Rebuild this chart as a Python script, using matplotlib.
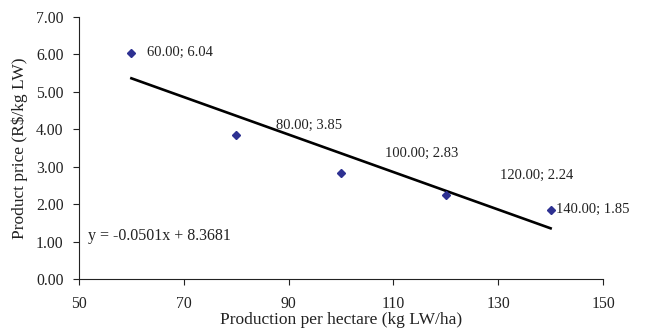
import numpy as np
import matplotlib
matplotlib.use('Agg')
import matplotlib.pyplot as plt

# data (point labels)
production = [60, 80, 100, 120, 140]
price = [6.04, 3.85, 2.83, 2.24, 1.85]
# trendline as printed on the chart
slope = -0.0501
intercept = 8.3681

# label offsets in points (dx, dy) from each point
label_offsets = [(11, 0), (29, 7), (32, 14), (39, 14), (4, 0)]

plt.rcParams['font.family'] = ['Liberation Serif', 'DejaVu Serif']
plt.rcParams['font.size'] = 10.5

fig = plt.figure(figsize=(6.54, 3.31), dpi=100)
ax = fig.add_axes([79 / 654, 1 - 279 / 331, 524 / 654, 262 / 331])

xs = np.array([min(production), max(production)])
ax.plot(xs, slope * xs + intercept, color='black', lw=1.9, zorder=2)
ax.plot(production, price, linestyle='none', marker='D', markersize=4.2,
        color='#2e3192', zorder=3)

for x, y, (dx, dy) in zip(production, price, label_offsets):
    ax.annotate('%.2f; %.2f' % (x, y), (x, y), xytext=(dx, dy),
                textcoords='offset points', ha='left', va='center',
                color='#222222')

ax.text(0.017, 0.165, 'y = -0.0501x + 8.3681', transform=ax.transAxes,
        ha='left', va='center', color='#222222', fontsize=11.5)

ax.set_xlim(50, 150)
ax.set_ylim(0, 7)
ax.set_xticks(range(50, 151, 20))
ax.set_yticks(range(0, 8))
ax.yaxis.set_major_formatter(plt.FuncFormatter(lambda v, p: '%.2f' % v))

for side in ['top', 'right']:
    ax.spines[side].set_visible(False)
for side in ['left', 'bottom']:
    ax.spines[side].set_linewidth(0.8)
    ax.spines[side].set_color('#222222')
ax.tick_params(direction='out', length=4, width=0.8, colors='#222222',
               labelsize=11.3)
ax.tick_params(axis='y', pad=7)
ax.tick_params(axis='x', pad=8)

ax.set_xlabel('Production per hectare (kg LW/ha)', color='#222222',
              fontsize=12.5, labelpad=0)
ax.set_ylabel('Product price (R$/kg LW)', color='#222222',
              fontsize=12.5, labelpad=6)

fig.savefig('out.png', dpi=100)
plt.close()
